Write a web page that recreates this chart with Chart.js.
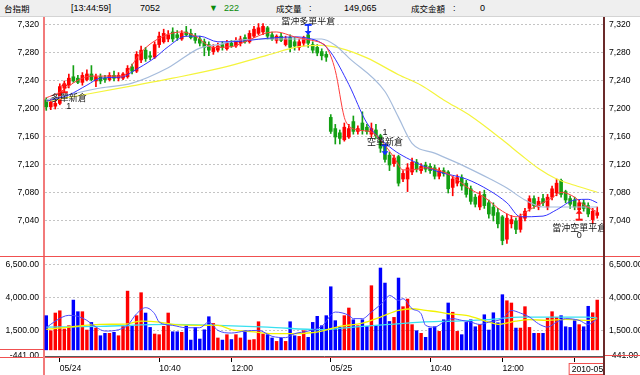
<!DOCTYPE html>
<html>
<head>
<meta charset="utf-8">
<script src="https://cdn.jsdelivr.net/npm/chart.js@4.4.1/dist/chart.umd.min.js"></script>
<style>
  html, body { margin: 0; padding: 0; background: #fff; }
  body { width: 640px; height: 375px; position: relative; overflow: hidden; font-family: "Liberation Sans", "Noto Sans CJK TC", sans-serif; }
  #hdr { position: absolute; left: 0; top: 0; width: 640px; height: 16px; background: #efefef; border-bottom: 1px solid #d4d4d4; font-size: 9px; color: #000; }
  #hdr span { position: absolute; top: 3px; white-space: nowrap; }
  #hdr .cjk { font-family: "Noto Sans CJK TC", sans-serif; font-size: 8.5px; top: 2px; }
  #hdr .dn { color: #0a8a0a; }
  #top { position: absolute; left: 0; top: 17px; }
  #vol { position: absolute; left: 0; top: 256px; }
</style>
</head>
<body>
<div id="hdr">
  <span class="cjk" style="left:4px">台指期</span>
  <span style="left:71px">[13:44:59]</span>
  <span style="left:140px">7052</span>
  <span class="dn" style="left:209px">▼</span>
  <span class="dn" style="left:224px">222</span>
  <span class="cjk" style="left:276px">成交量</span>
  <span style="left:309px">:</span>
  <span style="left:344px">149,065</span>
  <span class="cjk" style="left:411px">成交金額</span>
  <span style="left:453px">:</span>
  <span style="left:480px">0</span>
</div>
<canvas id="top" width="640" height="239"></canvas>
<canvas id="vol" width="640" height="119"></canvas>
<script>
// 5-minute bars: last 3 of 05/21, then 05/24 and 05/25 sessions
const openP = [7213,7203,7204,7208,7230,7234,7246,7244,7238,7242, 7250,7240,7246,7244,7242,7248,7244,7244,7246,7260,
  7254,7270,7284,7276,7274,7292,7296,7300,7310,7306, 7300,7310,7308,7304,7300,7296,7292,7282,7284,7292,
  7286,7294,7290,7294,7302,7296,7304,7308,7310,7316, 7306,7298,7304,7292,7302,7296,7288,7294,7306,7292,
  7288,7282,7278,
  7188,7172,7166,7156,7160,7182,7168,7180,7174,7164, 7170,7162,7148,7134,7122,7132,7100,7100,7110,7124,
  7112,7120,7118,7116,7104,7112,7110,7088,7094,7102, 7094,7086,7074,7060,7078,7066,7060,7052,7046,7014,
  7036,7040,7028,7044,7058,7072,7060,7072,7060,7074, 7080,7098,7082,7072,7070,7056,7066,7062,7042,7048];
const highP = [7216,7214,7212,7236,7240,7250,7262,7248,7252,7256, 7262,7250,7250,7248,7252,7254,7252,7252,7262,7264,
  7282,7290,7288,7282,7296,7310,7314,7312,7316,7312, 7312,7318,7314,7308,7304,7300,7296,7292,7294,7296,
  7298,7298,7302,7304,7306,7312,7318,7322,7322,7318, 7310,7306,7308,7304,7306,7302,7300,7304,7312,7296,
  7292,7286,7282,
  7192,7178,7170,7180,7178,7190,7176,7196,7178,7180, 7178,7164,7150,7138,7134,7134,7112,7122,7130,7128,
  7122,7124,7122,7120,7116,7116,7112,7104,7106,7106, 7098,7090,7078,7082,7084,7070,7066,7058,7048,7050,
  7048,7044,7050,7058,7076,7076,7074,7078,7078,7090, 7100,7100,7084,7076,7074,7070,7070,7066,7058,7060];
const lowP = [7198,7199,7200,7206,7226,7230,7238,7236,7234,7240, 7240,7232,7236,7238,7240,7240,7240,7242,7244,7250,
  7252,7266,7268,7270,7272,7288,7294,7296,7296,7298, 7298,7304,7300,7294,7290,7276,7276,7278,7282,7284,
  7284,7288,7288,7290,7294,7294,7302,7306,7306,7300, 7298,7294,7296,7290,7282,7284,7284,7290,7288,7280,
  7276,7270,7268,
  7165,7150,7150,7154,7158,7164,7164,7164,7164,7160, 7158,7138,7124,7112,7118,7090,7096,7082,7106,7110,
  7108,7110,7108,7100,7100,7104,7080,7076,7090,7084, 7074,7064,7060,7056,7058,7044,7040,7030,7006,7008,
  7030,7022,7024,7040,7054,7058,7056,7062,7056,7070, 7076,7074,7066,7058,7056,7050,7054,7046,7036,7044];
const closeP = [7203,7210,7208,7232,7236,7244,7240,7238,7248,7250, 7242,7246,7240,7242,7248,7244,7248,7250,7258,7254,
  7278,7284,7272,7274,7292,7304,7308,7306,7300,7302, 7308,7306,7302,7298,7294,7288,7284,7288,7290,7288,
  7294,7290,7298,7300,7296,7308,7314,7316,7318,7304, 7300,7304,7298,7300,7288,7290,7296,7302,7294,7284,
  7280,7276,7274,
  7168,7160,7158,7174,7172,7168,7172,7170,7168,7172, 7162,7144,7128,7120,7130,7094,7108,7116,7124,7114,
  7118,7114,7112,7104,7112,7108,7086,7100,7102,7090, 7078,7068,7064,7076,7062,7050,7048,7036,7012,7044,
  7042,7028,7046,7054,7072,7062,7068,7066,7074,7086, 7094,7078,7070,7064,7060,7066,7058,7050,7054,7052];
const volume = [2640,1500,2840,3010,1630,1880,3820,2940,2940,1550, 2130,1700,1120,1300,1300,1380,1120,1880,4500,1830,
  2640,4380,2840,1750,1250,1200,1830,2840,1420,1420, 1380,1880,790,1750,870,1570,2560,2050,950,790,
  1200,830,1200,950,1500,790,830,2180,1250,1200, 950,690,930,690,2180,1120,1070,1500,1000,2130,
  2590,1880,2640,
  4830,2260,1750,2640,3220,2330,1880,2330,1830,4910, 1880,6250,5110,2200,2510,5490,3320,3900,1960,1500,
  1300,1000,1700,1800,1450,2330,3600,2900,1450,1200, 2130,2330,1800,1960,2710,1550,2860,2100,4230,3770,
  3600,1700,1700,3320,1750,1300,1300,1300,2460,2940, 2510,2640,1800,1750,2260,1960,1800,3350,2860,3820];

// moving averages as [bar index, value]
const maRed = [[0,7216],[3,7224],[7,7241],[10,7247],[17,7247],[19,7263],[21,7281],[25,7301],[30,7310],[33,7304],
  [37,7288],[41,7289],[45,7299],[49,7309],[51,7310],[55,7303],[58,7299],[61,7294],[62,7289],[64,7255],[66,7188],
  [67,7176],[69,7170],[72,7167],[74,7156],[77,7131],[79,7113],[81,7113],[84,7116],[88,7110],[91,7099],[93,7089],
  [97,7074],[101,7054],[104,7046],[107,7056],[109,7063],[112,7073],[114,7081],[117,7074],[119,7063],[122,7053]];
const maBlue = [[0,7211],[5,7220],[9,7234],[12,7244],[17,7246],[19,7253],[24,7273],[27,7289],[31,7304],[34,7304],
  [38,7296],[41,7296],[49,7301],[55,7303],[58,7301],[61,7294],[63,7281],[67,7235],[71,7180],[76,7146],[82,7123],
  [87,7110],[93,7100],[98,7084],[102,7066],[105,7046],[110,7047],[113,7056],[117,7070],[120,7071],[122,7066]];
const maSteel = [[0,7213],[12,7230],[19,7237],[27,7259],[34,7287],[39,7293],[41,7297],[49,7300],[56,7300],[61,7300],
  [64,7291],[67,7273],[75,7225],[78,7188],[81,7151],[86,7137],[91,7123],[93,7117],[98,7101],[102,7087],[106,7070],
  [110,7060],[117,7060],[122,7060]];
const maYellow = [[0,7211],[8,7220],[19,7233],[28,7244],[39,7259],[49,7277],[56,7289],[61,7291],[65,7287],[71,7273],
  [78,7249],[83,7234],[88,7213],[94,7190],[101,7156],[105,7135],[109,7115],[113,7100],[117,7091],[122,7081]];
const volMaBlue = [[0,1700],[2,2200],[5,2640],[7,2560],[9,2260],[11,1750],[13,1450],[16,1550],[18,1880],[20,2760],
  [22,3220],[24,2760],[25,2130],[28,1880],[31,1700],[34,1700],[36,2130],[38,1500],[41,1300],[44,1450],[47,1500],
  [50,1050],[53,950],[55,1250],[58,1450],[61,1800],[64,2890],[67,2640],[68,2390],[70,2390],[72,2890],[75,3770],
  [76,4150],[78,3770],[79,3900],[81,3140],[83,2760],[84,1880],[86,1750],[88,2130],[90,2390],[92,2260],[94,2130],
  [96,1950],[98,2130],[101,2390],[103,3010],[105,2810],[107,2510],[109,2000],[111,1750],[113,2130],[115,2390],
  [118,2260],[120,1950],[122,2390]];
const volMaYellow = [[0,1580],[5,1750],[12,1950],[18,2000],[21,2200],[25,2130],[28,1950],[34,1880],[38,1880],[41,1550],
  [46,1380],[50,1250],[55,1250],[58,1300],[61,1450],[65,1800],[70,2050],[74,2510],[78,3010],[81,3140],[84,3010],
  [87,2890],[89,2760],[93,2640],[98,2130],[100,1950],[104,2200],[107,2310],[111,2260],[115,2330],[120,2260],[122,2390]];
const volMaCyan = [[0,1750],[12,1800],[27,1950],[38,1880],[49,1750],[61,1550],[68,1750],[76,1950],[83,2130],[90,2200],
  [98,2310],[105,2510],[112,2510],[120,2510],[122,2430]];

const priceTicks = [7040, 7080, 7120, 7160, 7200, 7240, 7280, 7320];
const volTicks = [-441, 1500, 4000, 6500];
const xTickIdx = [3, 25, 41, 63, 85, 101, 117];
const xTickText = ['05/24', '10:40', '12:00', '05/25', '10:40', '12:00', '2010-05-25'];

const signals = [
  { at: 4, mark: 7231, dir: 'up', color: '#ff1010', text: '多單新倉', textAt: 5, textY: 7217, num: '1', numY: 7204 },
  { at: 58, mark: 7313, dir: 'down', color: '#1030ff', text: '當沖多單平倉', textAt: 58, textY: 7326, num: '', numY: 0 },
  { at: 75, mark: 7141, dir: 'down', color: '#1030ff', text: '空單新倉', textAt: 75, textY: 7154, num: '1', numY: 7166 },
  { at: 118, mark: 7049, dir: 'up', color: '#ff1010', text: '當沖空單平倉', textAt: 118, textY: 7031, num: '0', numY: 7019 }
];

function sessionTimes() {
  const out = [];
  for (let m = 8 * 60 + 50; m <= 13 * 60 + 45; m += 5) {
    out.push(String(Math.floor(m / 60)).padStart(2, '0') + ':' + String(m % 60).padStart(2, '0'));
  }
  return out;
}
const labels = ['13:35', '13:40', '13:45', ...sessionTimes(), ...sessionTimes(), ''];
const N = labels.length;

function sparse(pts) {
  const a = new Array(N).fill(null);
  pts.forEach(([i, v]) => { a[i] = v; });
  return a;
}

const isUp = closeP.map((c, i) => c >= openP[i]);
const candleColor = isUp.map(u => u ? '#ff0000' : '#14a014');
const volColor = isUp.map(u => u ? '#ff0000' : '#0000ff');

Chart.defaults.font.family = "'Liberation Sans', Arial, sans-serif";
Chart.defaults.font.size = 8.6;
Chart.defaults.color = '#000';

const gridGray = '#c4c4c4';

function maLine(pts, color, width) {
  return {
    type: 'line',
    data: sparse(pts),
    borderColor: color,
    borderWidth: width,
    pointRadius: 0,
    spanGaps: true,
    cubicInterpolationMode: 'monotone',
    order: 0
  };
}

function leftAxis(min, max, ticks, fmt) {
  return {
    position: 'left',
    min: min,
    max: max,
    afterBuildTicks: s => { s.ticks = ticks.map(v => ({ value: v })); },
    afterFit: s => { s.width = 44; s.paddingTop = 0; s.paddingBottom = 0; },
    ticks: { padding: 5, callback: fmt },
    grid: {
      drawTicks: false,
      color: ctx => (ctx.tick && ctx.tick.value === -441) ? 'rgba(0,0,0,0)' : gridGray
    },
    border: { color: '#f27a7a', width: 2, dash: [2, 2] }
  };
}

function rightAxis(min, max, ticks, fmt) {
  return {
    position: 'right',
    min: min,
    max: max,
    afterBuildTicks: s => { s.ticks = ticks.map(v => ({ value: v })); },
    afterFit: s => { s.width = 36; s.paddingTop = 0; s.paddingBottom = 0; },
    ticks: { padding: 5, callback: fmt },
    grid: { display: false, drawTicks: false },
    border: { color: '#6a2a2a', width: 2 }
  };
}

const fmtPrice = v => v.toLocaleString('en-US');
const fmtVol = v => v.toLocaleString('en-US', { minimumFractionDigits: 2, maximumFractionDigits: 2 });

function drawArrow(ctx, cx, cy, dir, color) {
  const s = dir === 'down' ? 1 : -1;
  const tail = cy - s * 5;
  const tip = cy + s * 5;
  ctx.fillStyle = color;
  ctx.strokeStyle = color;
  ctx.lineWidth = 1.5;
  ctx.fillRect(cx - 3.5, tail - 1, 7, 2);
  ctx.beginPath();
  ctx.moveTo(cx, tail);
  ctx.lineTo(cx, tip - s * 3);
  ctx.stroke();
  ctx.beginPath();
  ctx.moveTo(cx - 3.5, tip - s * 4);
  ctx.lineTo(cx + 3.5, tip - s * 4);
  ctx.lineTo(cx, tip);
  ctx.closePath();
  ctx.fill();
}

const signalPlugin = {
  id: 'signals',
  afterDatasetsDraw(chart) {
    const { ctx, chartArea: a, scales: { x, y } } = chart;
    ctx.save();
    ctx.beginPath();
    ctx.rect(a.left, 0, a.right - a.left, chart.height);
    ctx.clip();
    signals.forEach(s => {
      drawArrow(ctx, x.getPixelForValue(s.at), y.getPixelForValue(s.mark), s.dir, s.color);
      ctx.font = '9px "Noto Sans CJK TC", sans-serif';
      ctx.fillStyle = '#141414';
      ctx.textAlign = 'center';
      ctx.textBaseline = 'middle';
      ctx.fillText(s.text, x.getPixelForValue(s.textAt), y.getPixelForValue(s.textY));
      if (s.num) {
        ctx.font = '9px "Liberation Sans", sans-serif';
        ctx.fillText(s.num, x.getPixelForValue(s.textAt), y.getPixelForValue(s.numY));
      }
    });
    ctx.restore();
  }
};

const volFrame = {
  id: 'volFrame',
  afterDraw(chart) {
    const { ctx, chartArea: a, width, height, scales: { x } } = chart;
    const line = (x1, y1, x2, y2) => { ctx.beginPath(); ctx.moveTo(x1, y1); ctx.lineTo(x2, y2); ctx.stroke(); };
    ctx.save();
    ctx.strokeStyle = '#f05050';
    ctx.lineWidth = 1;
    line(0, 0.5, width, 0.5);
    line(0, a.bottom + 1.5, a.right, a.bottom + 1.5);
    line(0, a.bottom - 6.5, a.left, a.bottom - 6.5);
    line(a.right, a.bottom - 0.5, width, a.bottom - 0.5);
    ctx.strokeStyle = '#f27a7a';
    ctx.lineWidth = 2;
    line(a.left, a.bottom, a.left, height);
    ctx.strokeStyle = '#6a2a2a';
    line(a.right, 0, a.right, height);

    // boxed date label at the last tick, clipped at the plot edge
    const last = xTickIdx.length - 1;
    const px = x.getPixelForValue(xTickIdx[last]);
    ctx.beginPath();
    ctx.rect(0, 0, a.right - 1, height);
    ctx.clip();
    ctx.fillStyle = '#fff';
    ctx.fillRect(px - 6, a.bottom + 7, a.right - px + 6, height - a.bottom - 7);
    ctx.strokeStyle = '#f05050';
    ctx.lineWidth = 1;
    ctx.strokeRect(px - 5.5, a.bottom + 7.5, a.right - px + 10, height - a.bottom - 8);
    ctx.fillStyle = '#000';
    ctx.font = '8.6px "Liberation Sans", sans-serif';
    ctx.textAlign = 'left';
    ctx.textBaseline = 'middle';
    ctx.fillText(xTickText[last], px - 3, a.bottom + 13.5);
    ctx.restore();
  }
};

const common = {
  responsive: false,
  animation: false,
  devicePixelRatio: 1,
  layout: { padding: 0 },
  plugins: { legend: { display: false }, tooltip: { enabled: false } }
};

new Chart(document.getElementById('top'), {
  type: 'bar',
  data: {
    labels: labels,
    datasets: [
      maLine(maRed, '#ff3c3c', 1),
      maLine(maBlue, '#3232ff', 1),
      maLine(maSteel, '#a6bcdc', 1.2),
      maLine(maYellow, '#f4f43c', 1.2),
      {
        data: lowP.map((l, i) => [l, highP[i]]),
        backgroundColor: candleColor,
        barThickness: 1,
        grouped: false,
        order: 2
      },
      {
        data: openP.map((o, i) => [o, closeP[i]]),
        backgroundColor: candleColor,
        barThickness: 3,
        minBarLength: 1,
        grouped: false,
        order: 1
      }
    ]
  },
  options: {
    ...common,
    scales: {
      x: { type: 'category', display: false, offset: true, grid: { display: false } },
      y: leftAxis(6990, 7331.4, priceTicks, fmtPrice),
      yr: rightAxis(6990, 7331.4, priceTicks, fmtPrice)
    }
  },
  plugins: [signalPlugin]
});

new Chart(document.getElementById('vol'), {
  type: 'bar',
  data: {
    labels: labels,
    datasets: [
      maLine(volMaBlue, '#4848ff', 1),
      maLine(volMaYellow, '#f2f200', 1.3),
      maLine(volMaCyan, '#38e0f0', 1.3),
      {
        data: volume,
        backgroundColor: volColor,
        barPercentage: 0.76,
        categoryPercentage: 1,
        order: 1
      }
    ]
  },
  options: {
    ...common,
    scales: {
      x: {
        type: 'category',
        offset: true,
        afterBuildTicks: s => { s.ticks = xTickIdx.map(v => ({ value: v })); },
        afterFit: s => { s.height = 19; s.paddingLeft = 0; s.paddingRight = 0; },
        ticks: {
          autoSkip: false,
          maxRotation: 0,
          align: 'start',
          padding: 1,
          callback: (v, i) => i === xTickIdx.length - 1 ? '' : xTickText[i]
        },
        grid: { drawOnChartArea: false, offset: false, tickLength: 6, color: '#000' },
        border: { color: '#5a5a5a', width: 1 }
      },
      y: leftAxis(-441, 7135, volTicks, fmtVol),
      yr: rightAxis(-441, 7135, volTicks, fmtVol)
    }
  },
  plugins: [volFrame]
});
</script>
</body>
</html>
